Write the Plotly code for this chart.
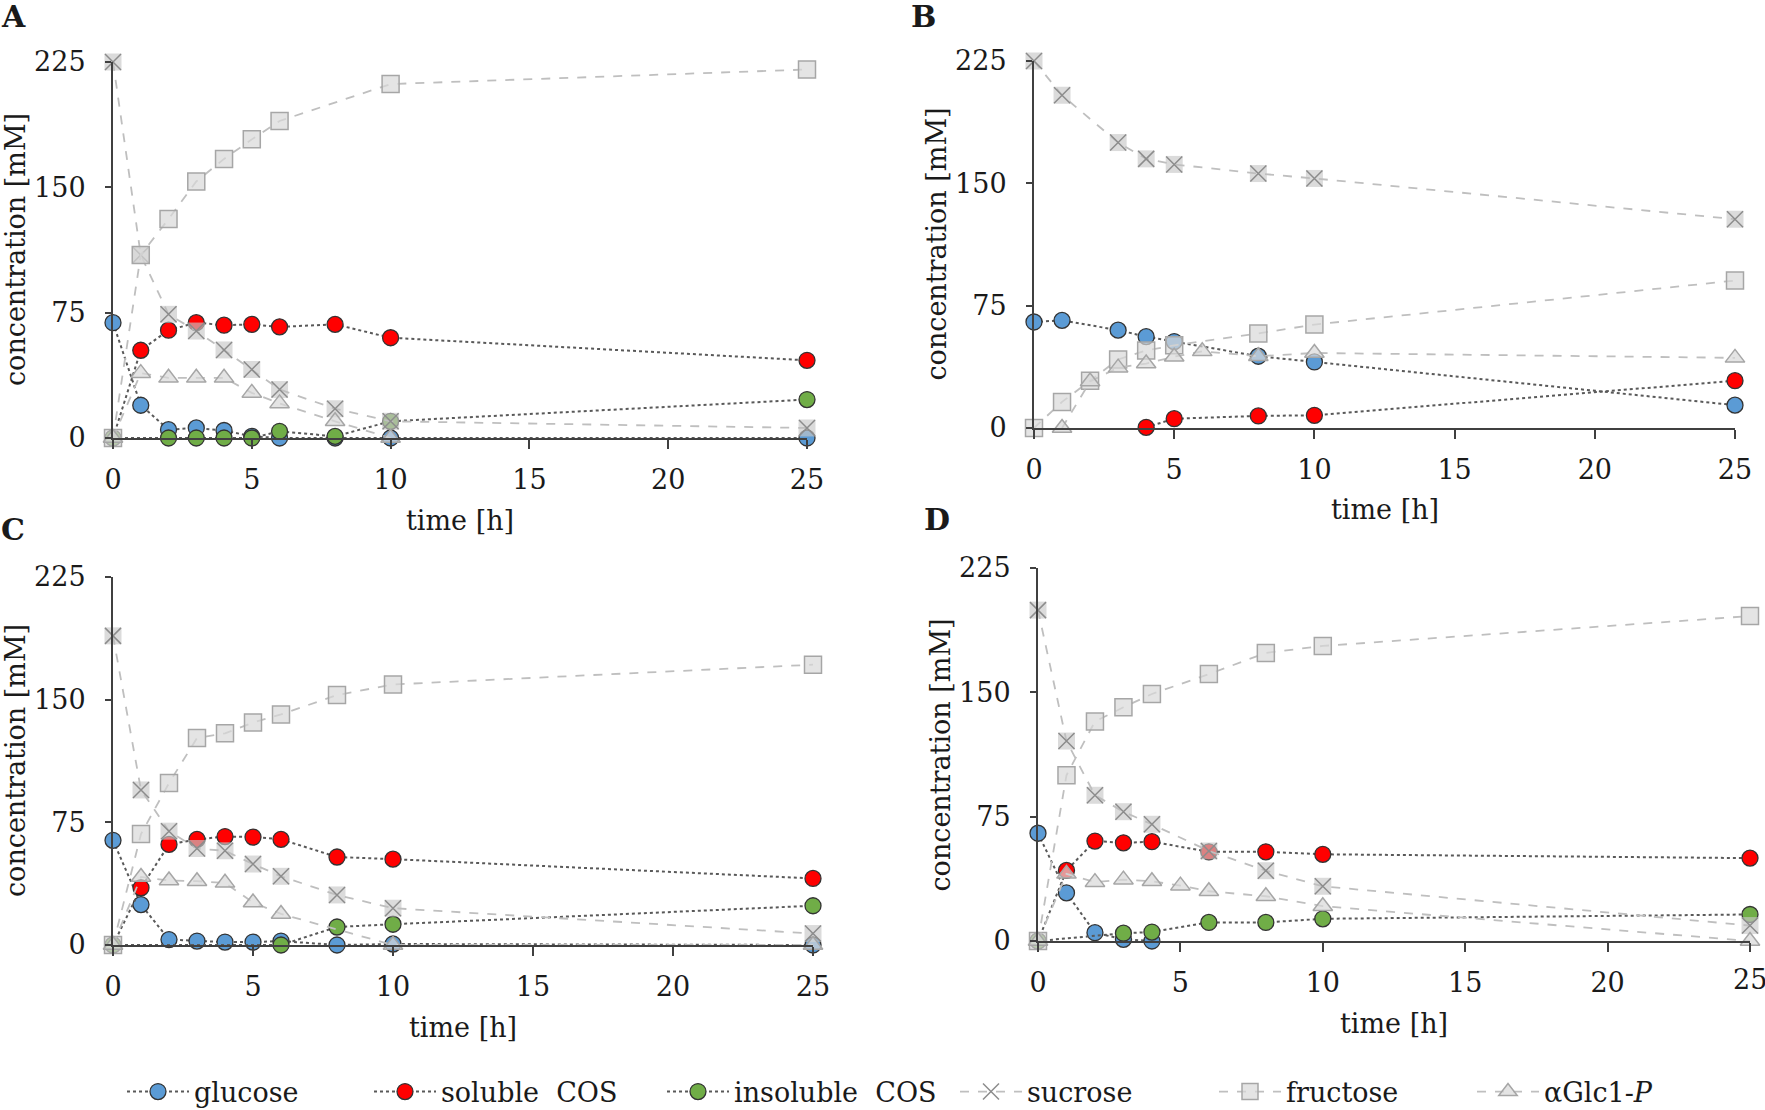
import plotly.graph_objects as go

W, H = 1765, 1110
FONT = "DejaVu Serif"

time_h = [0, 1, 2, 3, 4, 5, 6, 8, 10, 25]
x_ticks = [0, 5, 10, 15, 20, 25]
y_ticks = [0, 75, 150, 225]
series_names = ["glucose", "soluble  COS", "insoluble  COS", "sucrose", "fructose", "αGlc1-<i>P</i>"]

# Panel A
A_glucose   = [69, 19.6, 5, 6, 4.5, 1, 0, 0, 0, 0]
A_soluble   = [0, 52.5, 64.5, 69, 67.5, 68, 66.5, 68, 60, 46.5]
A_insoluble = [0, None, 0, 0, 0, 0, 4, 1, 10, 23]
A_sucrose   = [225, 109.5, 74, 64, 52.7, 41, 29, 17.5, 10, 6]
A_fructose  = [0, 109.5, 131, 153.5, 167, 178.7, 189.7, None, 211.8, 220.5]
A_aglc1p    = [0, 38.8, 36, 36, 36, 27, 20.7, 10, 0, None]

# Panel B
B_glucose   = [65, 66, None, 60, 56, 53, None, 44, 40.5, 14]
B_soluble   = [None, None, None, None, 0.4, 5.7, None, 7.4, 7.8, 29]
B_insoluble = [None] * 10
B_sucrose   = [225, 204, None, 175, 165, 161.6, None, 156, 153, 128]
B_fructose  = [0, 16, 29, 42, 47.5, 50.7, None, 58, 63.4, 90.4]
B_aglc1p    = [None, 0, 28.5, 37, 39.5, 43.7, 47, 44, 46, 43]

# Panel C
C_glucose   = [64, 24.7, 3.3, 2.4, 1.8, 1.8, 2.4, 0, 0.6, 0]
C_soluble   = [0, 35, 61.5, 64.6, 66.3, 66, 64.6, 53.8, 52.5, 40.7]
C_insoluble = [0, None, None, None, None, None, 0, 11, 12.7, 24]
C_sucrose   = [189, 94.8, 69.6, 59, 57.6, 49.5, 42, 30.6, 22.5, 7]
C_fructose  = [0, 67.8, 99, 126.5, 129.4, 136, 141, 152.8, 159.3, 171.4]
C_aglc1p    = [0, 41.6, 39.4, 39, 38, 26, 19, None, 0, 0]

# Panel D
D_glucose   = [65, 29, 5, 1, 0, None, None, None, None, None]
D_soluble   = [0, 42.6, 60.3, 59.2, 59.9, None, 53.8, 53.8, 52.3, 50]
D_insoluble = [0, None, None, 4.7, 5.4, None, 11.2, 11.2, 13.4, 16]
D_sucrose   = [199.6, 120.6, 87.9, 78, 70.4, None, 54.3, 42.4, 33, 9.3]
D_fructose  = [0, 100, 132.4, 141, 149, None, 161, 173.8, 178, 196]
D_aglc1p    = [0, 40.5, 35.5, 37, 36, 33.4, 30, 27, 21, 0]

panels = [
    ("A", [A_glucose, A_soluble, A_insoluble, A_sucrose, A_fructose, A_aglc1p]),
    ("B", [B_glucose, B_soluble, B_insoluble, B_sucrose, B_fructose, B_aglc1p]),
    ("C", [C_glucose, C_soluble, C_insoluble, C_sucrose, C_fructose, C_aglc1p]),
    ("D", [D_glucose, D_soluble, D_insoluble, D_sucrose, D_fructose, D_aglc1p]),
]

# pixel boxes: x0 (t=0), x1 (t=25), ytop (225), ybot (0)
boxes = {
    "A": (113, 807, 62, 438),
    "B": (1034, 1735, 61, 428),
    "C": (113, 813, 577, 945),
    "D": (1038, 1750, 568, 941),
}
label_pos = {"A": (13, 17), "B": (923, 17), "C": (13, 529), "D": (937, 519)}
legend_centers = [158, 405, 698, 991, 1250, 1508]
legend_ids = ["legend", "legend2", "legend3", "legend4", "legend5", "legend6"]

DOT = "#595959"
GRAY_LINE = "#bfbfbf"
circle_fill = ["#5b9bd5", "#ff0000", "#70ad47"]
TXT = "#1a1a1a"

fig = go.Figure()
annotations = []
layout_axes = {}

for i, (name, data) in enumerate(panels):
    x0, x1, yt, yb = boxes[name]
    xa = "x" if i == 0 else f"x{i+1}"
    ya = "y" if i == 0 else f"y{i+1}"
    xkey = "xaxis" if i == 0 else f"xaxis{i+1}"
    ykey = "yaxis" if i == 0 else f"yaxis{i+1}"
    xticktext = [str(v) for v in x_ticks]
    if name == "D":
        # last label runs past the page edge; drawn as an annotation below
        xticktext[-1] = ""
    layout_axes[xkey] = dict(
        domain=[x0 / W, x1 / W], anchor=ya, range=[0, 25],
        tickvals=x_ticks, ticktext=xticktext,
        showgrid=False, zeroline=False, showline=True, linecolor="#404040", linewidth=2,
        ticks="outside", ticklen=9, tickwidth=2, tickcolor="#404040",
        tickfont=dict(family=FONT, size=27, color=TXT), ticklabelstandoff=8,
    )
    layout_axes[ykey] = dict(
        domain=[1 - yb / H, 1 - yt / H], anchor=xa, range=[0, 225], tickvals=y_ticks,
        showgrid=False, zeroline=False, showline=True, linecolor="#404040", linewidth=2,
        ticks="outside", ticklen=6, tickwidth=2, tickcolor="#404040",
        tickfont=dict(family=FONT, size=27, color=TXT), ticklabelstandoff=14,
    )
    if name == "D":
        annotations.append(dict(
            text=str(x_ticks[-1]), xref=xa, yref="paper", x=x_ticks[-1],
            y=1 - (yb + 38) / H, showarrow=False, xanchor="center", yanchor="middle",
            font=dict(family=FONT, size=27, color=TXT),
        ))
    show = (i == 0)
    for k in range(3):
        fig.add_trace(go.Scatter(
            x=time_h, y=data[k], xaxis=xa, yaxis=ya, mode="lines+markers",
            name=series_names[k], legendgroup=series_names[k], showlegend=show,
            legend=legend_ids[k],
            connectgaps=True, cliponaxis=False,
            line=dict(color=DOT, width=2, dash="dot"),
            marker=dict(symbol="circle", size=16, color=circle_fill[k],
                        line=dict(color="#333333", width=1.3)),
        ))
    # sucrose: light square background + x
    fig.add_trace(go.Scatter(
        x=time_h, y=data[3], xaxis=xa, yaxis=ya, mode="markers",
        legendgroup="sucrose", showlegend=False, cliponaxis=False, hoverinfo="skip",
        marker=dict(symbol="square", size=17, color="rgba(200,200,200,0.65)",
                    line=dict(width=0)),
    ))
    fig.add_trace(go.Scatter(
        x=time_h, y=data[3], xaxis=xa, yaxis=ya, mode="lines+markers",
        name=series_names[3], legendgroup="sucrose", showlegend=show, legend=legend_ids[3],
        connectgaps=True, cliponaxis=False,
        line=dict(color=GRAY_LINE, width=1.8, dash="dash"),
        marker=dict(symbol="x-thin", size=16, color="#8c8c8c",
                    line=dict(color="#8c8c8c", width=1.5)),
    ))
    fig.add_trace(go.Scatter(
        x=time_h, y=data[4], xaxis=xa, yaxis=ya, mode="lines+markers",
        name=series_names[4], legendgroup="fructose", showlegend=show, legend=legend_ids[4],
        connectgaps=True, cliponaxis=False,
        line=dict(color=GRAY_LINE, width=1.8, dash="dash"),
        marker=dict(symbol="square", size=17, color="rgba(217,217,217,0.7)",
                    line=dict(color="#a6a6a6", width=1.5)),
    ))
    fig.add_trace(go.Scatter(
        x=time_h, y=data[5], xaxis=xa, yaxis=ya, mode="lines+markers",
        name=series_names[5], legendgroup="aglc", showlegend=show, legend=legend_ids[5],
        connectgaps=True, cliponaxis=False,
        line=dict(color=GRAY_LINE, width=1.8, dash="dash"),
        marker=dict(symbol="triangle-up", size=17, color="rgba(217,217,217,0.7)",
                    line=dict(color="#a6a6a6", width=1.5)),
    ))
    # axis titles
    annotations.append(dict(
        text="time [h]", xref="paper", yref="paper",
        x=(x0 + x1) / 2 / W, y=1 - (yb + 82) / H, showarrow=False,
        xanchor="center", yanchor="middle", font=dict(family=FONT, size=27, color=TXT),
    ))
    annotations.append(dict(
        text="concentration [mM]", xref="paper", yref="paper",
        x=(x0 - 98) / W, y=1 - (yt + yb) / 2 / H, showarrow=False, textangle=-90,
        xanchor="center", yanchor="middle", font=dict(family=FONT, size=27, color=TXT),
    ))
    lx, ly = label_pos[name]
    annotations.append(dict(
        text=f"<b>{name}</b>", xref="paper", yref="paper",
        x=lx / W, y=1 - ly / H, showarrow=False, xanchor="center", yanchor="middle",
        font=dict(family=FONT, size=30, color=TXT),
    ))

legends = {}
for lid, cx in zip(legend_ids, legend_centers):
    legends[lid] = dict(
        orientation="h", x=(cx - 36) / W, y=1 - 1092 / H, xanchor="left", yanchor="middle",
        font=dict(family=FONT, size=27, color=TXT), itemwidth=62,
        bgcolor="rgba(0,0,0,0)", borderwidth=0,
    )

fig.update_layout(
    width=W, height=H, margin=dict(l=0, r=0, t=0, b=0, autoexpand=False),
    paper_bgcolor="white", plot_bgcolor="white",
    annotations=annotations,
    **legends,
    **layout_axes,
)

fig.write_html("out.html", config={"displayModeBar": False},
               post_script="document.body.style.margin='0';document.body.style.overflow='hidden';")
